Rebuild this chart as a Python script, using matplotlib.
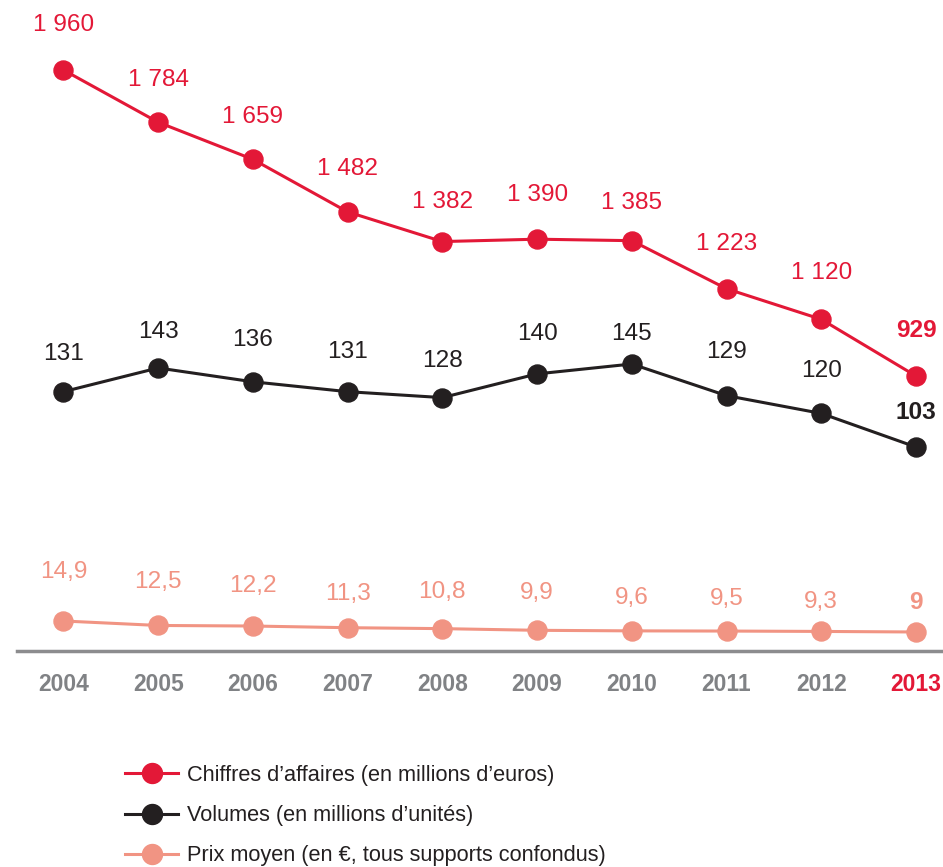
import matplotlib
matplotlib.use("Agg")
import matplotlib.pyplot as plt
from matplotlib.lines import Line2D

plt.rcParams['font.family'] = ['Liberation Sans', 'DejaVu Sans']

years = [2004, 2005, 2006, 2007, 2008, 2009, 2010, 2011, 2012, 2013]
chiffres = [1960, 1784, 1659, 1482, 1382, 1390, 1385, 1223, 1120, 929]
chiffres_labels = ["1 960", "1 784", "1 659", "1 482", "1 382", "1 390", "1 385", "1 223", "1 120", "929"]
volumes = [131, 143, 136, 131, 128, 140, 145, 129, 120, 103]
volumes_labels = ["131", "143", "136", "131", "128", "140", "145", "129", "120", "103"]
prix = [14.9, 12.5, 12.2, 11.3, 10.8, 9.9, 9.6, 9.5, 9.3, 9.0]
prix_labels = ["14,9", "12,5", "12,2", "11,3", "10,8", "9,9", "9,6", "9,5", "9,3", "9"]
legend_labels = ["Chiffres d\u2019affaires (en millions d\u2019euros)",
                 "Volumes (en millions d\u2019unit\u00e9s)",
                 "Prix moyen (en \u20ac, tous supports confondus)"]

# label vertical offsets in pixels (style)
off_red = [45, 42, 42, 43, 40, 44, 38, 45, 46, 46]
off_blk = [38, 36, 42, 40, 37, 40, 30, 44, 42, 35]
off_pnk = [49, 43, 40, 34, 37, 37, 33, 32, 29, 29]

RED = '#E31837'
BLK = '#231F20'
PNK = '#F19483'
GRAY = '#808285'

W, H = 943, 867
fig = plt.figure(figsize=(W / 100, H / 100), dpi=100)
ax = fig.add_axes([17 / W, (H - 651) / H, 1 - 17 / W, (651 - 10) / H])
ax2 = ax.twinx()
ax3 = ax.twinx()

ax.set_xlim(2003.51, 2013.285)
ax.set_ylim(2.5, 2162.2)
ax2.set_ylim(-0.2, 324.1)
ax3.set_ylim(-1.2, 342.7)

lw = 2.2
ms = 13.7
series = [
    (ax, chiffres, chiffres_labels, off_red, RED),
    (ax2, volumes, volumes_labels, off_blk, BLK),
    (ax3, prix, prix_labels, off_pnk, PNK),
]
handles = []
for a, vals, labs, offs, col in series:
    ln, = a.plot(years, vals, color=col, lw=lw, marker='o', ms=ms, clip_on=False, zorder=3)
    handles.append(Line2D([], [], color=col, lw=lw, marker='o', ms=ms * 1.05))
    for i, (x, v, t, o) in enumerate(zip(years, vals, labs, offs)):
        last = (i == len(years) - 1)
        a.annotate(t, (x, v), xytext=(0, o * 0.72), textcoords='offset points',
                   ha='center', va='center', fontsize=17.6, color=col,
                   fontweight='bold' if last else 'normal', annotation_clip=False)

for a in (ax, ax2, ax3):
    for s in ('top', 'right', 'left'):
        a.spines[s].set_visible(False)
    a.set_yticks([])
    a.patch.set_visible(False)
ax2.spines['bottom'].set_visible(False)
ax3.spines['bottom'].set_visible(False)
ax.spines['bottom'].set_color('#8C8C8E')
ax.spines['bottom'].set_linewidth(2.5)

ax.set_xticks(years)
ax.set_xticklabels([str(y) for y in years])
ax.tick_params(axis='x', length=0, pad=16)
for i, t in enumerate(ax.get_xticklabels()):
    t.set_fontsize(16.5)
    t.set_fontweight('bold')
    t.set_color(RED if i == len(years) - 1 else GRAY)

leg = fig.legend(handles, legend_labels, loc='upper left',
                 bbox_to_anchor=(125 / W, (H - 765) / H), frameon=False,
                 fontsize=15.7, handlelength=2.45, handletextpad=0.4,
                 labelspacing=0.88, borderpad=0, borderaxespad=0)
for t in leg.get_texts():
    t.set_color(BLK)

fig.savefig('out.png', dpi=100)
